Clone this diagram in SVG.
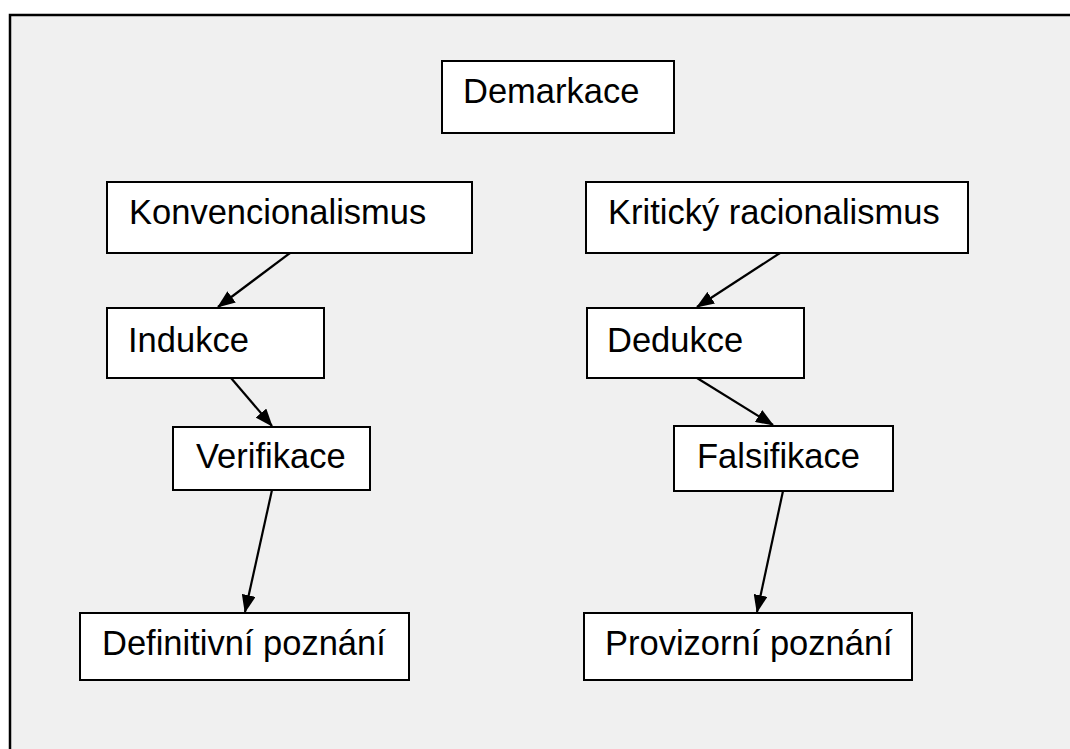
<svg xmlns="http://www.w3.org/2000/svg" width="1070" height="749" viewBox="0 0 1070 749">
  <style>
    .box { fill: #ffffff; stroke: #000000; stroke-width: 2; }
    .lbl { font-family: "Liberation Sans", Arial, sans-serif; font-size: 34.5px; fill: #000000; }
    .edge { stroke: #000000; stroke-width: 2.2; fill: none; marker-end: url(#arrow); }
  </style>
  <defs>
    <marker id="arrow" markerUnits="userSpaceOnUse" markerWidth="18" markerHeight="14" refX="17" refY="7" orient="auto">
      <path d="M0,0 L18,7 L0,14 Z" fill="#000000"/>
    </marker>
  </defs>

  <!-- page background and frame -->
  <rect x="0" y="0" width="1070" height="749" fill="#ffffff"/>
  <rect x="10" y="15" width="1090" height="770" fill="#f0f0f0" stroke="#000000" stroke-width="2.5"/>

  <g id="demarkace">
    <rect class="box" x="442" y="61" width="232" height="72"/>
    <text class="lbl" x="463" y="103">Demarkace</text>
  </g>
  <g id="konvencionalismus">
    <rect class="box" x="107" y="182" width="365" height="71"/>
    <text class="lbl" x="129" y="224">Konvencionalismus</text>
  </g>
  <g id="kriticky-racionalismus">
    <rect class="box" x="586" y="182" width="382" height="71"/>
    <text class="lbl" x="608" y="224">Kritický racionalismus</text>
  </g>
  <g id="indukce">
    <rect class="box" x="107" y="308" width="217" height="70"/>
    <text class="lbl" x="128" y="352">Indukce</text>
  </g>
  <g id="dedukce">
    <rect class="box" x="587" y="308" width="217" height="70"/>
    <text class="lbl" x="607" y="352">Dedukce</text>
  </g>
  <g id="verifikace">
    <rect class="box" x="173" y="427" width="197" height="63"/>
    <text class="lbl" x="196" y="468">Verifikace</text>
  </g>
  <g id="falsifikace">
    <rect class="box" x="674" y="426" width="219" height="65"/>
    <text class="lbl" x="697" y="468">Falsifikace</text>
  </g>
  <g id="definitivni-poznani">
    <rect class="box" x="80" y="613" width="329" height="67"/>
    <text class="lbl" x="102" y="655">Definitivní poznání</text>
  </g>
  <g id="provizorni-poznani">
    <rect class="box" x="584" y="613" width="328" height="67"/>
    <text class="lbl" x="605" y="655">Provizorní poznání</text>
  </g>

  <g id="connectors">
    <line class="edge" x1="290" y1="253" x2="218" y2="307"/>
    <line class="edge" x1="231" y1="378" x2="272" y2="426"/>
    <line class="edge" x1="272" y1="490" x2="245" y2="612"/>
    <line class="edge" x1="780" y1="253" x2="697" y2="307"/>
    <line class="edge" x1="697" y1="378" x2="773" y2="425"/>
    <line class="edge" x1="783" y1="491" x2="757" y2="612"/>
  </g>
</svg>
